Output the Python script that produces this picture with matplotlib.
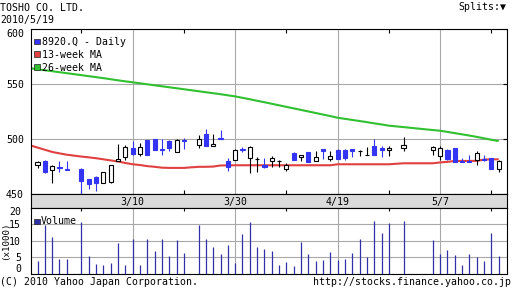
import numpy as np
import pandas as pd
import matplotlib
matplotlib.use("Agg")
import matplotlib.pyplot as plt
from matplotlib.patches import Rectangle

plt.rcParams["font.family"] = ["DejaVu Sans Mono"]
plt.rcParams["font.size"] = 7.1

W, H = 512, 301

# trading days 2010 (month/day)
days = ["2/19", "2/22", "2/23", "2/24", "2/25",
        "3/1", "3/2", "3/3", "3/4", "3/5",
        "3/8", "3/9", "3/10", "3/11", "3/12",
        "3/15", "3/16", "3/17", "3/18", "3/19",
        "3/23", "3/24", "3/25", "3/26",
        "3/29", "3/30", "3/31", "4/1", "4/2",
        "4/5", "4/6", "4/7", "4/8", "4/9",
        "4/12", "4/13", "4/14", "4/15", "4/16",
        "4/19", "4/20", "4/21", "4/22", "4/23",
        "4/26", "4/27", "4/28", "4/30",
        "5/6", "5/7",
        "5/10", "5/11", "5/12", "5/13", "5/14",
        "5/17", "5/18", "5/19"]

opens = [477, 480, 472, 475, 473,
         473, 464, 466, 460, 461,
         480, 484, 492, 487, 499,
         500, 491, 498, 488, 499,
         495, 505, 494, 501,
         480, 481, 491, 483, 482,
         477, 480, 480, 473, 488,
         484, 488, 480, 491, 482,
         490, 490, 491, 489, 486,
         494, 492, 490, 492,
         490, 485,
         490, 492, 480, 480, 481,
         482, 483, 473]
highs = [480, 481, 477, 480, 480,
         474, 464, 467, 470, 477,
         496, 495, 498, 497, 499,
         500, 500, 499, 500, 501,
         504, 509, 505, 508,
         483, 491, 493, 494, 484,
         483, 485, 481, 478, 488,
         486, 488, 489, 491, 489,
         491, 491, 491, 490, 493,
         500, 494, 494, 502,
         494, 494,
         491, 492, 483, 486, 489,
         486, 483, 481]
lows = [474, 469, 460, 470, 472,
        450, 455, 453, 460, 460,
        480, 481, 486, 485, 486,
        490, 486, 489, 488, 491,
        492, 494, 494, 500,
        471, 481, 488, 469, 470,
        474, 475, 475, 471, 481,
        480, 479, 480, 482, 480,
        482, 481, 484, 485, 486,
        486, 484, 485, 489,
        486, 481,
        481, 479, 479, 479, 477,
        480, 473, 470]
closes = [479, 470, 476, 474, 472,
          462, 459, 460, 470, 477,
          482, 493, 487, 493, 486,
          490, 490, 492, 499, 498,
          500, 494, 496, 500,
          475, 490, 490, 493, 482,
          475, 483, 480, 477, 481,
          486, 479, 484, 489, 485,
          482, 483, 489, 489, 486,
          486, 490, 492, 495,
          493, 492,
          482, 479, 479, 479, 488,
          481, 473, 480]

# volume in thousands of shares
volume = [3.9, 14.7, 11.1, 4.5, 4.5,
          15.6, 5.4, 3.0, 2.7, 3.3,
          9.3, 2.7, 10.5, 2.7, 10.5,
          6.9, 10.5, 5.4, 10.2, 6.3,
          14.7, 10.5, 8.1, 6.0,
          8.7, 3.3, 12.0, 15.6, 8.1,
          7.5, 6.9, 2.7, 3.6, 2.4,
          9.6, 6.0, 3.9, 4.2, 6.6,
          4.2, 4.5, 6.3, 10.5, 5.1,
          16.0, 12.3, 15.3, 16.0,
          10.2, 6.0,
          7.2, 5.7, 2.7, 6.0, 5.1,
          3.9, 12.3, 5.4]

# moving averages (first value is 2/18, then one per trading day)
ma_days = ["2/18"] + days
ma13 = [494.5,
        492.5, 490.5, 488.5, 487.2, 486.0,
        484.3, 483.6, 482.8, 481.8, 480.8,
        479.8, 478.5, 477.3, 476.6, 475.6,
        475.0, 474.2, 474.0, 474.0, 474.0,
        475.0, 475.0, 475.2, 476.2,
        476.3, 476.4, 476.4, 476.4, 476.4,
        476.4, 476.4, 476.4, 476.4, 476.4,
        476.4, 476.4, 476.4, 476.4, 476.4,
        477.3, 477.3, 477.3, 477.3, 477.3,
        477.3, 477.3, 477.3, 478.2,
        478.2, 479.0,
        479.5, 480.3, 480.3, 480.3, 480.4,
        481.5, 481.8, 481.8]
ma26 = [564.6,
        563.7, 562.8, 561.9, 561.0, 560.1,
        558.3, 557.4, 556.5, 555.6, 554.6,
        553.6, 552.7, 551.8, 550.9, 550.0,
        549.1, 548.2, 547.3, 546.4, 545.5,
        543.7, 542.8, 541.9, 541.0,
        540.0, 539.0, 537.7, 536.4, 535.0,
        533.7, 532.3, 530.9, 529.5, 528.1,
        526.7, 525.3, 523.9, 522.5, 521.1,
        519.6, 518.6, 517.6, 516.6, 515.6,
        514.5, 513.5, 512.4, 511.1,
        508.4, 507.8,
        506.7, 505.6, 504.5, 503.4, 502.2,
        500.9, 499.6, 498.4]

tick_days = ["3/10", "3/30", "4/19", "5/7"]

BLUE = "#3434f4"
VOLC = "#3030a8"
RED = "#e04040"
GREEN = "#30c030"
GRID = "#a8a8a8"
BAND = "#dadada"

# x axis counts weekdays (holidays keep their slot)
cal = pd.bdate_range("2010-02-18", "2010-05-19")
pos_of = {f"{d.month}/{d.day}": i - 1 for i, d in enumerate(cal)}
x = np.array([pos_of[d] for d in days], dtype=float)
xm = np.array([pos_of[d] for d in ma_days], dtype=float)
major = [pos_of[d] for d in tick_days]
minor = [m - 7 for m in major] + [major[-1] + 7]

o = np.array(opens, float)
hi = np.array(highs, float)
lo = np.array(lows, float)
c = np.array(closes, float)


def rect(left, top, right, bottom):
    return [left / W, 1 - bottom / H, (right - left) / W, (bottom - top) / H]


def ftext(px, py, s, **kw):
    fig.text(px / W, 1 - py / H, s, **kw)


fig = plt.figure(figsize=(W / 100, H / 100), dpi=100)
fig.patch.set_facecolor("white")

L, R = 30.7, 506.7
ax = fig.add_axes(rect(L, 29.3, R, 194.3))
band = fig.add_axes(rect(L, 194.3, R, 207.5))
axv = fig.add_axes(rect(L, 207.5, R, 273.8))

xlim = (-0.93, 64.09)
for a in (ax, band, axv):
    a.set_xlim(*xlim)
    for s in a.spines.values():
        s.set_linewidth(0.8)
        s.set_color("black")

# --- price panel
ax.set_ylim(450, 600)
ax.set_xticks(major)
ax.set_xticks(minor, minor=True)
ax.set_yticks([450, 500, 550, 600])
ax.grid(True, which="major", color=GRID, lw=0.8, zorder=0)
ax.tick_params(axis="x", which="major", length=0, labelbottom=False)
ax.tick_params(axis="x", which="minor", direction="in", top=True, bottom=True,
               length=2.9, width=0.8)
ax.tick_params(axis="y", left=False, right=True, direction="in", length=2.9,
               width=0.8, pad=4.8)
ax.get_yticklabels()[-1].set_va("top")

ax.plot(xm, ma13, color=RED, lw=1.5, zorder=2, solid_capstyle="butt")
ax.plot(xm, ma26, color=GREEN, lw=1.5, zorder=2, solid_capstyle="butt")

up = c > o
down = c < o
flat = c == o
bw = 0.56
ax.vlines(x[up | flat], lo[up | flat], hi[up | flat], color="black", lw=0.8, zorder=3)
ax.vlines(x[down], lo[down], hi[down], color=BLUE, lw=0.8, zorder=3)
ax.bar(x[up], c[up] - o[up], bottom=o[up], width=bw, facecolor="white",
       edgecolor="black", lw=0.8, zorder=4)
ax.bar(x[down], o[down] - c[down], bottom=c[down], width=bw, facecolor=BLUE,
       edgecolor=BLUE, lw=0.8, zorder=4)
ax.hlines(o[flat], x[flat] - bw / 2, x[flat] + bw / 2, color="black", lw=0.8, zorder=4)

# --- date band
band.set_facecolor(BAND)
band.set_ylim(0, 1)
band.set_xticks([])
band.set_yticks([])
for d, p in zip(tick_days, major):
    band.text(p, 0.45, d, ha="center", va="center")

# --- volume panel
axv.set_ylim(0, 20)
axv.set_xticks(major)
axv.set_xticks(minor, minor=True)
axv.set_yticks([0, 5, 10, 15, 20])
axv.grid(True, which="major", color=GRID, lw=0.8, zorder=0)
axv.tick_params(axis="x", which="major", length=0, labelbottom=False)
axv.tick_params(axis="x", which="minor", direction="in", top=True, bottom=False,
                length=2.5, width=0.8)
axv.tick_params(axis="y", left=False, pad=3.4)
yl = axv.get_yticklabels()
yl[-1].set_va("top")
yl[0].set_va("bottom")
axv.vlines(x, 0, volume, color=VOLC, lw=0.9, zorder=3)

# --- legends
def swatch(px, py, color):
    fig.patches.append(Rectangle((px / W, 1 - (py + 5.5) / H), 5.5 / W, 5.5 / H,
                                 transform=fig.transFigure, facecolor=color,
                                 edgecolor="#202020", lw=0.5, zorder=6))

swatch(34.3, 38.5, BLUE)
swatch(34.3, 51.0, RED)
swatch(34.3, 64.3, GREEN)
ftext(42.5, 42.0, "8920.Q - Daily", va="center", zorder=7)
ftext(42.5, 54.5, "13-week MA", va="center", zorder=7)
ftext(42.5, 68.0, "26-week MA", va="center", zorder=7)

swatch(34.3, 218.5, VOLC)
ftext(40.5, 221.3, "Volume", va="center", zorder=7)
ftext(6.0, 241, "(x1000)", rotation=90, ha="center", va="center", fontsize=6.6)

# --- header / footer
ftext(0, 8, "TOSHO CO. LTD.", va="center")
ftext(0, 20, "2010/5/19", va="center")
ftext(506, 7.5, "Splits:\u25bc", ha="right", va="center")
ftext(0, 281.7, "(C) 2010 Yahoo Japan Corporation.", va="center")
ftext(510.5, 281.7, "http://stocks.finance.yahoo.co.jp", ha="right", va="center")

fig.savefig("out.png", dpi=100, facecolor="white")
